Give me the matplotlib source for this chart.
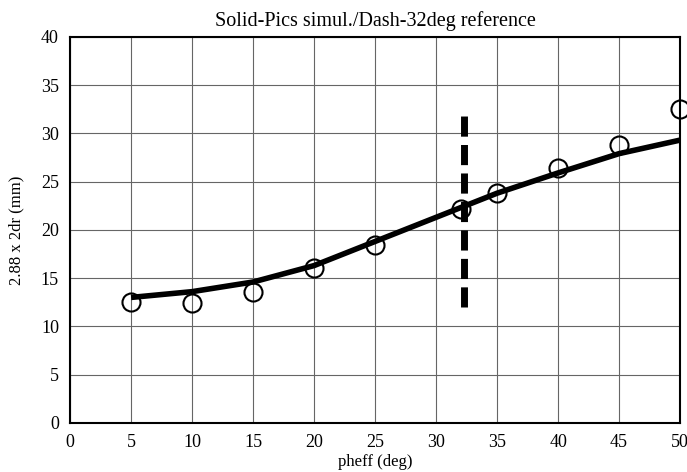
import numpy as np
import matplotlib
matplotlib.use("Agg")
from matplotlib import pyplot as plt

# simulation points (open circles)
sim_x = [5, 10, 15, 20, 25, 32, 35, 40, 45, 50]
sim_y = [12.5, 12.4, 13.6, 16.1, 18.4, 22.2, 23.8, 26.4, 28.8, 32.5]

# fitted solid curve
fit_x = [5, 10, 15, 20, 25, 30, 35, 40, 45, 50]
fit_y = [13.0, 13.6, 14.6, 16.3, 18.8, 21.3, 23.8, 25.9, 27.9, 29.3]

# dashed reference at 32 deg
ref_x = [32.3, 32.3]
ref_y = [12.0, 32.4]

plt.rcParams['font.family'] = ['Liberation Serif', 'DejaVu Serif']

fig = plt.figure(figsize=(6.87, 4.72), dpi=100)
ax = fig.add_axes([0.102, 0.104, 0.888, 0.818])

ax.plot(fit_x, fit_y, color="black", lw=4, solid_capstyle="butt", zorder=3)
ax.plot(sim_x, sim_y, "o", mfc="none", mec="black", mew=1.5, ms=13, zorder=4, clip_on=False)
ax.plot(ref_x, ref_y, color="black", lw=5, dashes=(2.9, 1.2), zorder=3)

ax.set_xlim(0, 50)
ax.set_ylim(0, 40)
ax.set_xticks(np.arange(0, 51, 5))
ax.set_yticks(np.arange(0, 41, 5))
ax.grid(True, color="#666666", lw=0.8)
ax.tick_params(length=0, labelsize=13, pad=8)
for s in ax.spines.values():
    s.set_linewidth(1.5)

ax.set_title("Solid-Pics simul./Dash-32deg reference", fontsize=14.5, pad=8)
ax.set_xlabel("pheff (deg)", fontsize=12, labelpad=2)
ax.set_ylabel("2.88 x 2dr (mm)", fontsize=12, labelpad=12)

fig.savefig("out.png", dpi=100)
